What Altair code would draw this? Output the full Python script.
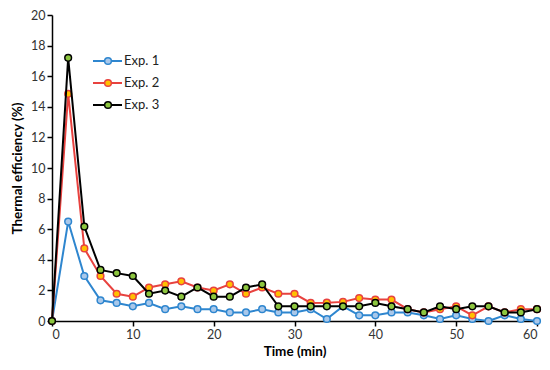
import altair as alt
import pandas as pd

time = list(range(0, 61, 2))
exp1 = [0, 6.5, 2.94, 1.35, 1.18, 0.96, 1.18, 0.77, 0.96, 0.77, 0.77, 0.56, 0.56, 0.77, 0.56, 0.56,
        0.77, 0.13, 0.96, 0.37, 0.37, 0.56, 0.56, 0.37, 0.13, 0.37, 0.13, 0.0, 0.37, 0.13, 0.0]
exp2 = [0, 14.85, 4.74, 2.94, 1.78, 1.59, 2.19, 2.4, 2.59, 2.19, 1.99, 2.4, 1.78, 2.19, 1.78, 1.78,
        1.18, 1.2, 1.25, 1.5, 1.4, 1.4, 0.77, 0.56, 0.77, 0.96, 0.37, 0.96, 0.56, 0.77, 0.77]
exp3 = [0, 17.2, 6.17, 3.34, 3.13, 2.94, 1.78, 1.99, 1.59, 2.19, 1.59, 1.59, 2.19, 2.4, 0.96, 0.96,
        0.96, 0.96, 0.96, 0.96, 1.18, 0.96, 0.77, 0.56, 0.96, 0.77, 0.96, 0.96, 0.56, 0.56, 0.77]

series = ["Exp. 1", "Exp. 2", "Exp. 3"]
line_colors = ["#2E86CF", "#E8423F", "#000000"]
fill_colors = ["#A9C8EA", "#FFC000", "#8DC63F"]

rows = []
for name, vals in zip(series, [exp1, exp2, exp3]):
    for t, v in zip(time, vals):
        rows.append({"time": t, "value": v, "series": name})
df = pd.DataFrame(rows)

FONT = "Lato"

x = alt.X("time:Q", scale=alt.Scale(domain=[0, 60], nice=False),
          axis=alt.Axis(values=[0, 10, 20, 30, 40, 50, 60], title="Time (min)", grid=False))
y = alt.Y("value:Q", scale=alt.Scale(domain=[0, 20], nice=False),
          axis=alt.Axis(values=list(range(0, 21, 2)), title="Thermal efficiency (%)", grid=False))

layers = []
for name, lc, fc in zip(series, line_colors, fill_colors):
    d = df[df.series == name]
    base = alt.Chart(d)
    layers.append(base.mark_line(color=lc, strokeWidth=2).encode(x=x, y=y))
    layers.append(base.mark_point(shape="circle", filled=True, fill=fc, stroke=lc,
                                  strokeWidth=1.5, size=45, opacity=1).encode(x=x, y=y))

# Legend (pixel positions inside plot area)
legend_y = [46, 68, 90]
leg = pd.DataFrame({"series": series, "ly": legend_y})
legend_layers = []
for i, name in enumerate(series):
    ld = leg[leg.series == name]
    b = alt.Chart(ld)
    legend_layers.append(b.mark_rule(color=line_colors[i], strokeWidth=2).encode(
        x=alt.value(41), x2=alt.value(70), y=alt.Y("ly:Q", scale=None)))
    legend_layers.append(b.mark_point(shape="circle", filled=True, fill=fill_colors[i],
                                      stroke=line_colors[i], strokeWidth=1.5, size=45, opacity=1).encode(
        x=alt.value(56), y=alt.Y("ly:Q", scale=None)))
    legend_layers.append(b.mark_text(align="left", baseline="middle", font=FONT, fontSize=13,
                                     color="#222222").encode(
        x=alt.value(72), y=alt.Y("ly:Q", scale=None), text="series:N"))

chart = alt.layer(*layers, *legend_layers).properties(
    width=485, height=306,
    autosize=alt.AutoSizeParams(type="none"),
    padding={"left": 44, "top": 7, "right": 5, "bottom": 40},
).configure_view(stroke=None).configure_axis(
    domainColor="#000000", domainWidth=1.5, tickColor="#000000", tickWidth=1.5, tickSize=5,
    labelFont=FONT, labelFontSize=12.5, labelColor="#333333",
    titleFont=FONT, titleFontSize=13.5, titleFontWeight="bold", titleColor="#000000",
).configure_axisX(titlePadding=4).configure_axisY(titlePadding=6)

chart.save("out.html", embed_options={"renderer": "svg", "actions": False})
